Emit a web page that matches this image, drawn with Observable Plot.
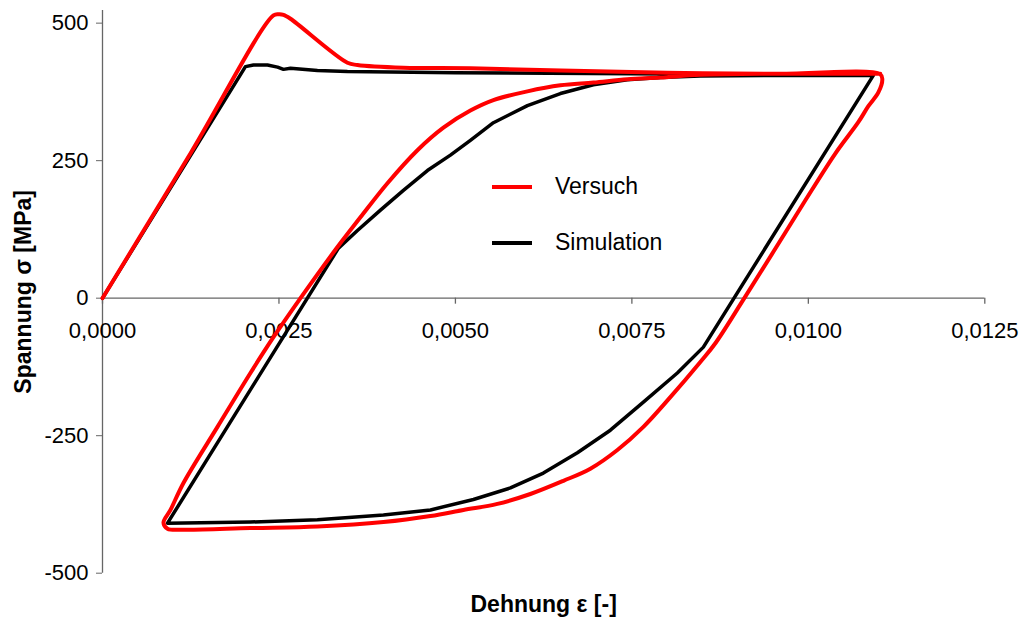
<!DOCTYPE html>
<html><head><meta charset="utf-8">
<script src="https://cdn.jsdelivr.net/npm/d3@7"></script>
<script src="https://cdn.jsdelivr.net/npm/@observablehq/plot@0.6"></script>
<style>
body{margin:0;background:#fff;}
#wrap{position:relative;width:1023px;height:620px;}
</style></head><body><div id="wrap"></div>
<script>
// Tick values
const xTicks = [0, 0.0025, 0.005, 0.0075, 0.01, 0.0125];
const yTicks = [-500, -250, 0, 250, 500];
const xDomain = [0, 0.0125];
const yDomain = [-500, 523];

// Series names / colours
const seriesNames = ["Versuch", "Simulation"];
const seriesColors = ["#ff0000", "#000000"];

// Versuch (experiment): strain [-] and stress [MPa]
const versuchEps = [0, 0.00125, 0.002422, 0.0025, 0.002564, 0.002663, 0.00347, 0.003612, 0.004263, 0.005212, 0.0065, 0.008, 0.0095, 0.01102,
  0.011048, 0.010992, 0.01085, 0.010708, 0.010382, 0.009958, 0.009518, 0.009093, 0.008683, 0.00847, 0.008045, 0.007663, 0.007295,
  0.006912, 0.00653, 0.006062, 0.005595, 0.005113, 0.004646, 0.00398, 0.003045, 0.002096, 0.001147, 0.000921, 0.000864, 0.000963,
  0.001147, 0.001629, 0.002096, 0.002422, 0.002805, 0.003329, 0.003654, 0.004037, 0.004462, 0.00483, 0.005212, 0.005538, 0.00602,
  0.006487, 0.006955, 0.007436, 0.007904, 0.00847, 0.0095, 0.01102];
const versuchSig = [0, 264, 514, 516, 515, 508, 428, 424, 419, 418, 414, 410, 408, 407,
  398, 374, 349, 320, 263, 178, 87, 0, -82, -116, -180, -234, -276,
  -310, -332, -356, -374, -385, -396, -407, -415, -418, -421, -419, -408, -385,
  -336, -234, -136, -71, 0, 93, 147, 209, 269, 310, 341, 360, 376,
  387, 392, 398, 401, 406, 408, 408];

// Simulation
const simEps = [0, 0.002025, 0.002139, 0.002337, 0.00248, 0.002564, 0.002663, 0.003045, 0.00347, 0.005, 0.0075, 0.0095, 0.010921,
  0.008513, 0.008144, 0.007663, 0.007195, 0.006728, 0.006246, 0.005779, 0.005255, 0.004646, 0.00398, 0.003045, 0.002096, 0.000921,
  0.003343, 0.003612, 0.003938, 0.004263, 0.004603, 0.004929, 0.005212, 0.005538, 0.00602, 0.006487, 0.006955, 0.007436, 0.007904,
  0.00847, 0.0095, 0.010921];
const simSig = [0, 421, 424, 424, 420, 416, 418, 414, 412, 410, 408, 406, 405,
  -89, -136, -189, -240, -281, -318, -345, -366, -385, -394, -403, -407, -409,
  91, 123, 160, 196, 232, 260, 287, 319, 350, 372, 388, 397, 401,
  404, 405, 405];

const versuch = versuchEps.map((e, i) => ({eps: e, sig: versuchSig[i]}));
const sim = simEps.map((e, i) => ({eps: e, sig: simSig[i]}));
const fmtX = d => d3.format(".4f")(d).replace(".", ",");
const FONT = "Liberation Sans, Arial, Helvetica, sans-serif";

const plot = Plot.plot({
  width: 1023, height: 620,
  marginLeft: 102, marginRight: 38.7, marginTop: 10, marginBottom: 47.3,
  style: {fontFamily: FONT, fontSize: "22px", color: "#000", background: "#fff"},
  x: {domain: xDomain, axis: null},
  y: {domain: yDomain, axis: null},
  marks: [
    Plot.ruleX([0], {stroke: "#666", strokeWidth: 1.3}),
    Plot.ruleY([0], {stroke: "#666", strokeWidth: 1.3}),
    Plot.axisY({ticks: yTicks, tickSize: 6, tickPadding: 8, tickFormat: d => String(d), label: null, stroke: "#666", fontSize: 22}),
    Plot.ruleX(xTicks, {x: d => d, y1: 0, y2: 0, insetBottom: -6, stroke: "#666", strokeWidth: 1.3}),
    Plot.text(xTicks, {x: d => d, y: 0, dy: 33, text: fmtX, fontSize: 22}),
    Plot.line(sim, {x: "eps", y: "sig", stroke: seriesColors[1], strokeWidth: 3.5, strokeLinejoin: "round", strokeLinecap: "round"}),
    Plot.line(versuch, {x: "eps", y: "sig", stroke: seriesColors[0], strokeWidth: 4, strokeLinejoin: "round", strokeLinecap: "round", curve: "catmull-rom"}),
    Plot.text(["Dehnung ε [-]"], {frameAnchor: "bottom", dy: 39, fontWeight: "bold", fontSize: 23}),
    Plot.text(["Spannung σ [MPa]"], {frameAnchor: "left", textAnchor: "middle", dx: -79, dy: 0, rotate: -90, fontWeight: "bold", fontSize: 23})
  ]
});
document.getElementById("wrap").appendChild(plot);

// In-plot legend
const svg = d3.select(plot);
const leg = svg.append("g").attr("font-family", FONT).attr("font-size", 23).attr("text-anchor", "start");
const legY = [187, 243];
seriesNames.forEach((name, i) => {
  leg.append("line").attr("x1", 492).attr("x2", 532).attr("y1", legY[i]).attr("y2", legY[i])
    .attr("stroke", seriesColors[i]).attr("stroke-width", 4);
  leg.append("text").attr("x", 555).attr("y", legY[i] + 7).attr("fill", "#000").text(name);
});
</script>
</body></html>
